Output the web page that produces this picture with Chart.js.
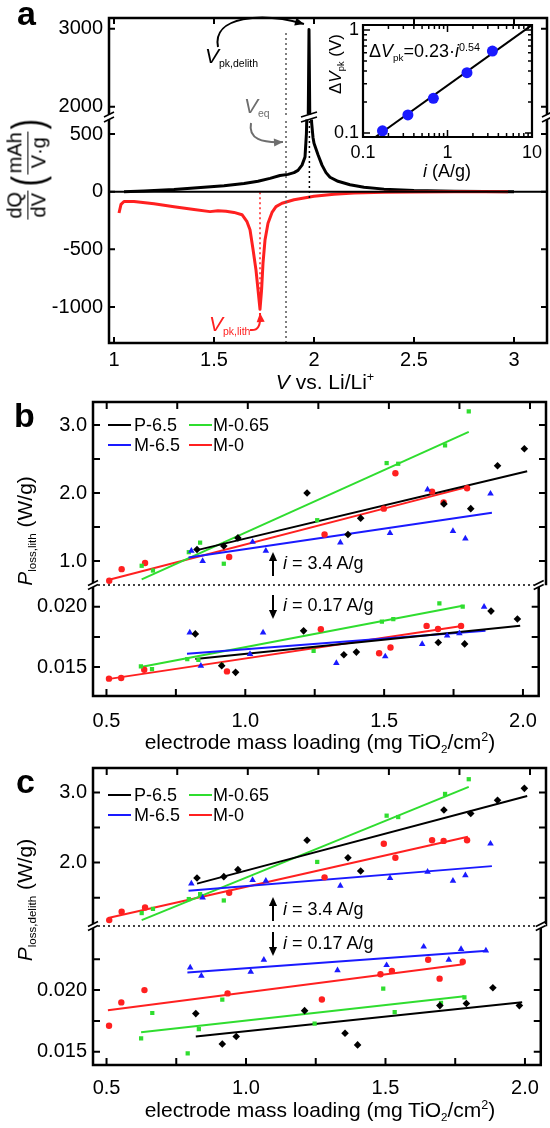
<!DOCTYPE html>
<html><head><meta charset="utf-8">
<script src="https://cdn.jsdelivr.net/npm/chart.js@4.4.1/dist/chart.umd.min.js"></script>
<style>
html,body{margin:0;padding:0;background:#fff;}
#wrap{position:relative;width:550px;height:1128px;overflow:hidden;background:#fff;font-family:'Liberation Sans',Arial,Helvetica,sans-serif;color:#000;}
#wrap canvas{position:absolute;left:0;top:0;}
.t{position:absolute;white-space:nowrap;line-height:1;z-index:5;}
.c{transform:translate(-50%,-50%);}
.lc{transform:translate(0,-50%);}
.rot{transform:translate(-50%,-50%) rotate(-90deg);}
.sub{font-size:0.55em;vertical-align:-0.35em;}
.sup{font-size:0.6em;vertical-align:0.6em;}
.frac{display:inline-flex;flex-direction:column;align-items:center;line-height:1.08;}
.num{border-bottom:1.6px solid #000;padding:0 1px 1px 1px;}
.par{display:inline-block;font-size:44px;transform:scaleX(0.7);line-height:1;}
.lg{position:absolute;height:2.5px;width:23px;z-index:5;}
</style></head>
<body><div id="wrap">
<div class="t" style="left:17px;top:-4px;font-size:34px;font-weight:bold">a</div>
<div class="t" style="left:14px;top:398px;font-size:34px;font-weight:bold">b</div>
<div class="t" style="left:16px;top:764px;font-size:34px;font-weight:bold">c</div>

<div class="t c" style="left:325px;top:381px;font-size:21px"><i>V</i> vs. Li/Li<span class="sup">+</span></div>
<div class="t c" style="left:320px;top:743px;font-size:21px">electrode mass loading (mg TiO<span class="sub">2</span>/cm<span class="sup">2</span>)</div>
<div class="t c" style="left:320px;top:1111px;font-size:21px">electrode mass loading (mg TiO<span class="sub">2</span>/cm<span class="sup">2</span>)</div>

<div class="t rot" style="left:27px;top:168px;font-size:20px;display:flex;align-items:center;">
  <span class="frac"><span class="num">dQ</span><span>dV</span></span>
  <span class="par" style="margin-left:2px">(</span>
  <span class="frac"><span class="num">mAh</span><span>V·g</span></span>
  <span class="par">)</span>
</div>
<div class="t rot" style="left:26px;top:531px;font-size:21px"><i>P</i><span class="sub">loss,lith</span> (W/g)</div>
<div class="t rot" style="left:26px;top:900px;font-size:21px"><i>P</i><span class="sub">loss,delith</span> (W/g)</div>

<div class="t" style="left:205px;top:45px;font-size:21px"><i>V</i><span class="sub" style="font-size:0.5em">pk,delith</span></div>
<div class="t" style="left:244px;top:95px;font-size:21px;color:#6e6e6e"><i>V</i><span class="sub" style="font-size:0.5em">eq</span></div>
<div class="t" style="left:209px;top:313px;font-size:21px;color:#ff2020"><i>V</i><span class="sub" style="font-size:0.5em">pk,lith</span></div>

<div class="t lc" style="left:369px;top:52px;font-size:18px">&Delta;<i>V</i><span class="sub">pk</span>=0.23&middot;<i>i</i><span class="sup">0.54</span></div>
<div class="t rot" style="left:337px;top:64px;font-size:17px">&Delta;<i>V</i><span class="sub">pk</span> (V)</div>
<div class="t c" style="left:447px;top:171px;font-size:18px"><i>i</i> (A/g)</div>

<div class="t lc" style="left:283px;top:563px;font-size:18px"><i>i</i> = 3.4 A/g</div>
<div class="t lc" style="left:283px;top:605px;font-size:18px"><i>i</i> = 0.17 A/g</div>
<div class="t lc" style="left:283px;top:909px;font-size:18px"><i>i</i> = 3.4 A/g</div>
<div class="t lc" style="left:283px;top:943px;font-size:18px"><i>i</i> = 0.17 A/g</div>
</div>
<script>
// ================= DATA =================
// Panel a: dQ/dV (mAh V^-1 g^-1) vs V (V vs Li/Li+)
const delithV = [1.05,1.15,1.3,1.45,1.55,1.65,1.72,1.78,1.83,1.87,1.90,1.92,1.94,1.955,1.962,1.968,1.975,1.982,1.988,1.995,2.0,2.02,2.04,2.06,2.08,2.12,2.18,2.25,2.35,2.5,2.7,3.0];
const delithQ = [0,5,18,38,52,70,90,115,140,150,165,185,230,300,500,900,2990,1000,600,470,420,320,230,165,125,90,60,38,22,10,4,0];
const lithV = [1.025,1.035,1.05,1.1,1.2,1.3,1.4,1.48,1.52,1.56,1.6,1.64,1.665,1.68,1.695,1.71,1.72,1.73,1.738,1.745,1.755,1.77,1.79,1.81,1.84,1.87,1.9,2.0,2.1,2.2,2.35,2.5,2.7,2.97];
const lithQ = [-185,-110,-85,-85,-105,-130,-155,-173,-165,-170,-180,-200,-260,-330,-500,-680,-850,-1020,-850,-620,-420,-273,-180,-130,-100,-85,-70,-40,-22,-12,-5,-2,-1,0];
const V_eq = 1.86;
const V_pk_delith = 1.977;
const V_pk_lith = 1.73;
const aXTicks = [1, 1.5, 2, 2.5, 3];
const aYTicksUpper = [2000, 3000];
const aYTicksLower = [-1000, -500, 0, 500];

// Inset: peak separation vs current density
const insetI = [0.17, 0.34, 0.68, 1.7, 3.4];
const insetDV = [0.105, 0.15, 0.217, 0.385, 0.625];
const insetFitI = [0.139, 10];
const insetFitDV = [0.091, 1.12];
const insetXTicks = [0.1, 1, 10];
const insetYTicks = [0.1, 1];

// Panels b, c: series
const seriesNames = ['P-6.5', 'M-6.5', 'M-0.65', 'M-0'];
const loadP65  = [0.82,0.915,0.965,1.21,1.355,1.40,1.695,1.79,1.885,1.98];
const loadM65  = [0.80,0.84,1.017,1.064,1.328,1.504,1.637,1.727,1.771,1.86];
const loadM065 = [0.624,0.664,0.791,0.831,0.915,1.246,1.492,1.533,1.699,1.783];
const loadM0   = [0.509,0.553,0.636,0.934,1.272,1.482,1.523,1.653,1.694,1.777];

// b upper: P_loss,lith at i = 3.4 A/g (W/g)
const lithHiP65  = [1.17,1.22,1.34,2.0,1.39,1.63,1.84,1.77,2.40,2.65];
const lithHiM65  = [1.15,1.0,1.28,1.15,1.27,1.41,2.05,1.44,1.33,1.99];
const lithHiM065 = [0.93,0.86,1.13,1.27,0.96,1.60,2.44,2.43,2.70,3.20];
const lithHiM0   = [0.71,0.88,0.97,1.06,1.39,1.77,2.29,2.02,1.86,2.07];
// b lower: i = 0.17 A/g
const lithLoP65  = [0.01775,0.01511,0.01456,0.0180,0.01602,0.01624,0.01703,0.01692,0.01964,0.01898];
const lithLoM65  = [0.01786,0.01511,0.01607,0.01786,0.01533,0.01588,0.0169,0.0176,0.0178,0.0200];
const lithLoM065 = [0.01505,0.01483,0.01566,0.0156,0.01519,0.01635,0.01876,0.01898,0.02027,0.0200];
const lithLoM0   = [0.01404,0.01409,0.01478,0.01464,0.01813,0.01615,0.01662,0.01841,0.01816,0.01841];
// c upper: P_loss,delith at 3.4 A/g
const delithHiP65  = [1.78,1.80,1.90,2.32,2.07,1.88,2.75,2.70,2.89,3.06];
const delithHiM65  = [1.70,1.50,1.75,1.74,1.67,1.78,1.87,1.74,1.82,2.27];
const delithHiM065 = [1.28,1.34,1.48,1.55,1.46,2.01,2.67,2.65,2.98,3.19];
const delithHiM0   = [1.18,1.30,1.36,1.57,1.79,2.27,2.07,2.32,2.31,2.32];
// c lower: 0.17 A/g
const delithLoP65  = [0.01809,0.01563,0.01623,0.01833,0.0165,0.01555,0.01874,0.01891,0.02019,0.01874];
const delithLoM65  = [0.02183,0.02115,0.02148,0.02246,0.02161,0.02202,0.02352,0.02246,0.02333,0.0232];
const delithLoM065 = [0.01609,0.01814,0.01486,0.01683,0.01923,0.01727,0.02011,0.01822,0.01896,0.0194];
const delithLoM0   = [0.0171,0.0190,0.0200,0.01973,0.01923,0.02128,0.02156,0.02246,0.02093,0.0223];

// linear-fit end points
const fitXP65 = [0.82, 1.99], fitXM65 = [0.79, 1.865], fitXM065 = [0.624, 1.783], fitXM0 = [0.505, 1.78];
const fitLithHiP65 = [1.16, 2.32], fitLithHiM65 = [1.05, 1.71], fitLithHiM065 = [0.73, 2.90], fitLithHiM0 = [0.72, 2.09];
const fitLithLoP65 = [0.01566, 0.01843], fitLithLoM65 = [0.0161, 0.0180], fitLithLoM065 = [0.0150, 0.02008], fitLithLoM0 = [0.0140, 0.01841];
const fitDelithHiP65 = [1.70, 2.95], fitDelithHiM65 = [1.60, 1.95], fitDelithHiM065 = [1.18, 3.08], fitDelithHiM0 = [1.21, 2.37];
const fitDelithLoP65 = [0.01623, 0.01902], fitDelithLoM65 = [0.02142, 0.0232], fitDelithLoM065 = [0.01658, 0.0195], fitDelithLoM0 = [0.01836, 0.0221];

const bcXTicks = [0.5, 1.0, 1.5, 2.0];
const bcXMinor = [0.75, 1.25, 1.75];
const bYTicksUpper = [1.0, 2.0, 3.0], bYMinorUpper = [1.5, 2.5];
const bYTicksLower = [0.015, 0.020], bYMinorLower = [0.0175];
const cYTicksUpper = [2.0, 3.0], cYMinorUpper = [1.5, 2.5];
const cYTicksLower = [0.015, 0.020], cYMinorLower = [0.0175, 0.0225];

// ================= STYLE =================
const FONT = "'Liberation Sans', Arial, Helvetica, sans-serif";
Chart.defaults.font.family = FONT;
Chart.defaults.color = '#000';
const COLORS = ['#000000', '#1a1aff', '#2fdd2f', '#ff2020'];
const MARKERS = ['rectRot', 'triangle', 'rect', 'circle'];
const MSIZE = [3.8, 3.8, 3.0, 3.2];
const W = 550, H = 1128;
const wrap = document.getElementById('wrap');

const pts = (xs, ys) => xs.map((x, i) => ({x, y: ys[i]}));
const has = (arr, v) => arr.some(a => Math.abs(a - v) < 1e-9);

function arrowHead(ctx, x, y, ang, size) {
  ctx.beginPath();
  ctx.moveTo(x, y);
  ctx.lineTo(x - size * Math.cos(ang) + size * 0.45 * Math.sin(ang), y - size * Math.sin(ang) - size * 0.45 * Math.cos(ang));
  ctx.lineTo(x - size * Math.cos(ang) - size * 0.45 * Math.sin(ang), y - size * Math.sin(ang) + size * 0.45 * Math.cos(ang));
  ctx.closePath(); ctx.fill();
}
function vArrow(ctx, x, y0, y1) {
  ctx.save(); ctx.strokeStyle = '#000'; ctx.fillStyle = '#000'; ctx.lineWidth = 2;
  const dir = Math.sign(y1 - y0);
  ctx.beginPath(); ctx.moveTo(x, y0); ctx.lineTo(x, y1 - dir * 6); ctx.stroke();
  arrowHead(ctx, x, y1, dir > 0 ? Math.PI / 2 : -Math.PI / 2, 9);
  ctx.restore();
}
function curveArrow(ctx, color, p0, c1, c2, p1) {
  ctx.save(); ctx.strokeStyle = color; ctx.fillStyle = color; ctx.lineWidth = 2;
  ctx.beginPath(); ctx.moveTo(p0[0], p0[1]); ctx.bezierCurveTo(c1[0], c1[1], c2[0], c2[1], p1[0], p1[1]); ctx.stroke();
  arrowHead(ctx, p1[0], p1[1], Math.atan2(p1[1] - c2[1], p1[0] - c2[0]), 9);
  ctx.restore();
}
function breakMark(ctx, x, y, w, gap) {
  ctx.save();
  ctx.fillStyle = '#fff'; ctx.fillRect(x - w / 2, y - gap / 2, w, gap);
  ctx.strokeStyle = '#000'; ctx.lineWidth = 1.6;
  ctx.beginPath();
  ctx.moveTo(x - w / 2, y - gap / 2 + 2.5); ctx.lineTo(x + w / 2, y - gap / 2 - 2.5);
  ctx.moveTo(x - w / 2, y + gap / 2 + 2.5); ctx.lineTo(x + w / 2, y + gap / 2 - 2.5);
  ctx.stroke(); ctx.restore();
}
function dottedH(ctx, x0, x1, y) {
  ctx.save(); ctx.strokeStyle = '#000'; ctx.lineWidth = 1.6; ctx.setLineDash([2, 3]);
  ctx.beginPath(); ctx.moveTo(x0, y); ctx.lineTo(x1, y); ctx.stroke(); ctx.restore();
}

function framePlugin(spec) {
  return {
    id: 'frame',
    afterDraw(chart) {
      const ctx = chart.ctx, a = chart.chartArea, xs = chart.scales.x, ys = chart.scales.y;
      const f = spec.frame;
      ctx.save();
      ctx.strokeStyle = '#000';
      ctx.lineWidth = f.tw || 2;
      ctx.beginPath();
      (f.xt || []).forEach(([v, L]) => {
        const px = xs.getPixelForValue(v);
        if (f.xs.includes('t')) { ctx.moveTo(px, a.top); ctx.lineTo(px, a.top + L); }
        if (f.xs.includes('b')) { ctx.moveTo(px, a.bottom); ctx.lineTo(px, a.bottom - L); }
      });
      (f.yt || []).forEach(([v, L]) => {
        const py = ys.getPixelForValue(v);
        ctx.moveTo(a.left, py); ctx.lineTo(a.left + L, py);
        ctx.moveTo(a.right, py); ctx.lineTo(a.right - L, py);
      });
      ctx.stroke();
      ctx.lineWidth = f.lw || 2.5;
      ctx.lineCap = 'square';
      ctx.beginPath();
      const s = f.sides;
      if (s.includes('l')) { ctx.moveTo(a.left, a.top); ctx.lineTo(a.left, a.bottom); }
      if (s.includes('r')) { ctx.moveTo(a.right, a.top); ctx.lineTo(a.right, a.bottom); }
      if (s.includes('t')) { ctx.moveTo(a.left, a.top); ctx.lineTo(a.right, a.top); }
      if (s.includes('b')) { ctx.moveTo(a.left, a.bottom); ctx.lineTo(a.right, a.bottom); }
      ctx.stroke();
      ctx.restore();
      if (spec.deco) spec.deco(chart);
    }
  };
}

function makeChart(spec) {
  const cv = document.createElement('canvas');
  cv.width = W; cv.height = H;
  cv.style.width = W + 'px'; cv.style.height = H + 'px';
  wrap.appendChild(cv);
  const A = spec.area, YW = 70, XH = spec.xLabels ? 40 : 0;
  return new Chart(cv, {
    type: 'scatter',
    data: {datasets: spec.datasets},
    options: {
      responsive: false, animation: false, devicePixelRatio: 1, events: [],
      layout: {autoPadding: false, padding: {left: A.l - YW, top: A.t, right: W - A.r, bottom: H - A.b - XH}},
      plugins: {legend: {display: false}, tooltip: {enabled: false}},
      scales: {
        x: {
          type: spec.xType || 'linear', min: spec.xMin, max: spec.xMax, display: !!spec.xLabels,
          grid: {display: false, drawTicks: false}, border: {display: false},
          afterBuildTicks: s => { s.ticks = spec.xTickVals.map(v => ({value: v})); },
          afterFit: s => { s.height = XH; },
          ticks: {padding: spec.xPad ?? 6, font: {size: spec.xFont || 20}, maxRotation: 0, autoSkip: false, color: '#000',
                  callback: v => spec.xFmt(v)}
        },
        y: {
          type: spec.yType || 'linear', min: spec.yMin, max: spec.yMax, display: true,
          grid: {display: false, drawTicks: false}, border: {display: false},
          afterBuildTicks: s => { s.ticks = spec.yTickVals.map(v => ({value: v})); },
          afterFit: s => { s.width = YW; },
          ticks: {padding: spec.yPad ?? 6, font: {size: spec.yFont || 20}, autoSkip: false, color: '#000',
                  callback: v => spec.yFmt(v)}
        }
      }
    },
    plugins: [framePlugin(spec)]
  });
}

const lineDS = (data, color, width, dash) => ({data, showLine: true, borderColor: color, borderWidth: width,
  pointRadius: 0, borderDash: dash || [], clip: 0, order: 2, borderJoinStyle: 'round', borderCapStyle: 'butt'});

// ================= PANEL A =================
const aX = {xMin: 0.975, xMax: 3.165};
const aXT = aXTicks.map(v => [v, 6]);
makeChart({
  area: {l: 109, t: 15, r: 547, b: 115}, ...aX,
  xTickVals: aXTicks, xFmt: v => String(v),
  yMin: 1894, yMax: 3137, yTickVals: aYTicksUpper, yFmt: v => String(v),
  datasets: [
    lineDS(pts(delithV, delithQ), '#000', 3),
    lineDS(pts([V_eq, V_eq], [1894, 2950]), '#555', 1.5, [2, 3])
  ],
  frame: {sides: 'lrt', xs: 't', xt: aXT, yt: aYTicksUpper.map(v => [v, 6])}
});
makeChart({
  area: {l: 109, t: 119, r: 547, b: 343}, ...aX, xLabels: true, xPad: 5,
  xTickVals: aXTicks, xFmt: v => String(v),
  yMin: -1312, yMax: 630, yTickVals: aYTicksLower, yFmt: v => String(v),
  datasets: [
    lineDS(pts([V_eq, V_eq], [-1312, 630]), '#555', 1.5, [2, 3]),
    lineDS(pts([V_pk_delith, V_pk_delith], [-55, 630]), '#000', 1.5, [2, 3]),
    lineDS(pts(lithV, lithQ), '#ff2020', 3),
    lineDS(pts([V_pk_lith, V_pk_lith], [-1020, 0]), '#ff2020', 1.5, [2, 3]),
    lineDS(pts(delithV, delithQ), '#000', 3)
  ],
  frame: {sides: 'lrb', xs: 'b', xt: aXT, yt: aYTicksLower.map(v => [v, 6])},
  deco: (chart) => {
    const ctx = chart.ctx, a = chart.chartArea, xs = chart.scales.x, ys = chart.scales.y;
    const y0 = ys.getPixelForValue(0);
    ctx.save(); ctx.strokeStyle = '#000'; ctx.lineWidth = 2;
    ctx.beginPath(); ctx.moveTo(a.left, y0); ctx.lineTo(a.right, y0); ctx.stroke(); ctx.restore();
    const yb = a.top - 2;
    breakMark(ctx, a.left, yb, 10, 5);
    breakMark(ctx, a.right, yb, 10, 5);
    breakMark(ctx, xs.getPixelForValue(1.975), yb, 16, 5);
    const xpk = xs.getPixelForValue(1.975);
    curveArrow(ctx, '#000', [218, 47], [212, 16], [262, 12], [xpk - 5, 24]);
    const xeq = xs.getPixelForValue(V_eq);
    curveArrow(ctx, '#6e6e6e', [251, 123], [248, 139], [262, 143], [xeq - 3, 142]);
    const xl = xs.getPixelForValue(V_pk_lith);
    curveArrow(ctx, '#ff2020', [250, 330], [258, 331], [xl + 1, 326], [xl, 313]);
  }
});

// ================= INSET =================
const insetMinor = [];
[0.1, 1].forEach(d => { for (let k = 2; k <= 9; k++) insetMinor.push(+(k * d).toFixed(3)); });
makeChart({
  area: {l: 363, t: 25, r: 532, b: 137}, xType: 'logarithmic', xMin: 0.1, xMax: 10, xLabels: true, xPad: 5, xFont: 18,
  xTickVals: insetXTicks, xFmt: v => has(insetXTicks, v) ? String(v) : '',
  yType: 'logarithmic', yMin: 0.0915, yMax: 1.118, yTickVals: insetYTicks, yFmt: v => String(v), yFont: 18, yPad: 4,
  datasets: [
    lineDS(pts(insetFitI, insetFitDV), '#000', 2),
    {data: pts(insetI, insetDV), pointRadius: 5.5, pointStyle: 'circle', backgroundColor: '#1a1aff', borderWidth: 0, order: 1}
  ],
  frame: {sides: 'lrtb', lw: 2.2, tw: 1.5, xs: 'tb',
          xt: insetXTicks.map(v => [v, 7]).concat(insetMinor.map(v => [v, 4])),
          yt: insetYTicks.map(v => [v, 7]).concat(insetMinor.filter(v => v < 1).map(v => [v, 4]))}
});

// ================= PANELS B, C =================
const LOAD = [loadP65, loadM65, loadM065, loadM0];
const FITX = [fitXP65, fitXM65, fitXM065, fitXM0];
function seriesDatasets(vals, fits) {
  const ds = [];
  vals.forEach((v, s) => {
    ds.push(lineDS(pts(FITX[s], fits[s]), COLORS[s], 2));
    ds.push({data: pts(LOAD[s], v), pointStyle: MARKERS[s], pointRadius: MSIZE[s], backgroundColor: COLORS[s],
             borderWidth: 0, order: 1});
  });
  return ds;
}
const bcX = {xMin: 0.4515, xMax: 2.0567};
const bcXT = bcXTicks.concat(bcXMinor).map(v => [v, 7]);
const fmt1 = v => v.toFixed(1), fmt3 = v => v.toFixed(3);

function panel(top, bot, brk, hi, lo, hiFit, loFit, yHi, yLo, tHi, mHi, tLo, mLo, arrows, xPad) {
  makeChart({
    area: {l: 93, t: top, r: 546, b: brk - 1}, ...bcX,
    xTickVals: bcXTicks, xFmt: fmt1,
    yMin: yHi[0], yMax: yHi[1], yTickVals: tHi.concat(mHi), yFmt: v => has(tHi, v) ? fmt1(v) : '',
    datasets: seriesDatasets(hi, hiFit),
    frame: {sides: 'lrt', xs: 't', xt: bcXT, yt: tHi.concat(mHi).map(v => [v, 7])}
  });
  makeChart({
    area: {l: 93, t: brk + 1, r: 546, b: bot}, ...bcX, xLabels: true, xPad: xPad,
    xTickVals: bcXTicks, xFmt: fmt1,
    yMin: yLo[0], yMax: yLo[1], yTickVals: tLo.concat(mLo), yFmt: v => has(tLo, v) ? fmt3(v) : '',
    datasets: seriesDatasets(lo, loFit),
    frame: {sides: 'lrb', xs: 'b', xt: bcXT, yt: tLo.concat(mLo).map(v => [v, 7])},
    deco: (chart) => {
      const ctx = chart.ctx, a = chart.chartArea;
      dottedH(ctx, a.left, a.right, brk);
      breakMark(ctx, a.left, brk, 10, 4);
      breakMark(ctx, a.right, brk, 10, 4);
      vArrow(ctx, 273, arrows[0], arrows[1]);
      vArrow(ctx, 273, arrows[2], arrows[3]);
    }
  });
}
panel(402, 696, 585,
  [lithHiP65, lithHiM65, lithHiM065, lithHiM0], [lithLoP65, lithLoM65, lithLoM065, lithLoM0],
  [fitLithHiP65, fitLithHiM65, fitLithHiM065, fitLithHiM0], [fitLithLoP65, fitLithLoM65, fitLithLoM065, fitLithLoM0],
  [0.662, 3.338], [0.0126, 0.02172], bYTicksUpper, bYMinorUpper, bYTicksLower, bYMinorLower, [576, 552, 595, 619], 13);
panel(768, 1065, 926,
  [delithHiP65, delithHiM65, delithHiM065, delithHiM0], [delithLoP65, delithLoM65, delithLoM065, delithLoM0],
  [fitDelithHiP65, fitDelithHiM65, fitDelithHiM065, fitDelithHiM0], [fitDelithLoP65, fitDelithLoM65, fitDelithLoM065, fitDelithLoM0],
  [1.11, 3.35], [0.01392, 0.02512], cYTicksUpper, cYMinorUpper, cYTicksLower, cYMinorLower, [921, 897, 932, 956], 11);

// ================= LEGENDS =================
function legend(rowY) {
  const layout = [[0, 2], [1, 3]];
  const cols = [[108, 134], [189, 213]];
  layout.forEach((row, r) => row.forEach((s, c) => {
    const ln = document.createElement('div');
    ln.className = 'lg';
    ln.style.left = cols[c][0] + 'px'; ln.style.top = (rowY[r] - 1.25) + 'px'; ln.style.background = COLORS[s];
    wrap.appendChild(ln);
    const tx = document.createElement('div');
    tx.className = 't lc';
    tx.style.left = cols[c][1] + 'px'; tx.style.top = rowY[r] + 'px'; tx.style.fontSize = '18px';
    tx.textContent = seriesNames[s];
    wrap.appendChild(tx);
  }));
}
legend([425, 445]);
legend([795, 815]);
</script>
</body></html>
